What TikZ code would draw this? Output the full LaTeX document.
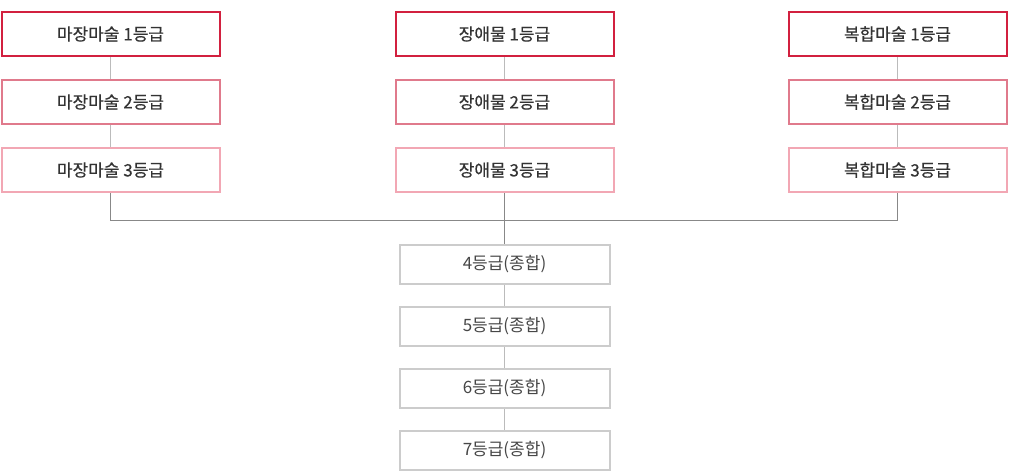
\documentclass[tikz,border=0pt]{standalone}
\usepackage{fontspec}
\newfontfamily\kr{Noto Sans CJK KR}
\newfontfamily\krb[FakeBold=0.4]{Noto Sans CJK KR}
\definecolor{rone}{HTML}{D2203F}
\definecolor{rtwo}{HTML}{E07A8C}
\definecolor{rthree}{HTML}{F2A7B4}
\definecolor{gbox}{HTML}{CCCCCC}
\definecolor{gline}{HTML}{BBBBBB}
\definecolor{gbus}{HTML}{888888}
\definecolor{txt}{HTML}{333333}
\begin{document}
\begin{tikzpicture}[x=1pt,y=-1pt,
  topbox/.style={draw=#1,line width=2pt,fill=white,minimum width=218pt,minimum height=44pt,inner sep=0pt,font=\krb\fontsize{17}{20}\selectfont,text=txt},
  botbox/.style={draw=gbox,line width=2pt,fill=white,minimum width=210pt,minimum height=39pt,inner sep=0pt,font=\kr\fontsize{17}{20}\selectfont,text=txt!90!white},
  link/.style={draw=gline,line width=1pt},
  bus/.style={draw=gbus,line width=1pt}]
\useasboundingbox (0,0) rectangle (1009,472);
% columns
\foreach \cx/\nm/\lab in {110.5/a/마장마술,504.5/b/장애물,897.5/c/복합마술}{
  \node[topbox=rone] (\nm1) at (\cx,34) {\lab\ 1등급};
  \node[topbox=rtwo] (\nm2) at (\cx,102) {\lab\ 2등급};
  \node[topbox=rthree] (\nm3) at (\cx,170) {\lab\ 3등급};
  \draw[link] (\nm1.south) -- (\nm2.north);
  \draw[link] (\nm2.south) -- (\nm3.north);
}
\node[botbox] (d4) at (504.5,264.5) {4등급(종합)};
\node[botbox] (d5) at (504.5,326.5) {5등급(종합)};
\node[botbox] (d6) at (504.5,388.5) {6등급(종합)};
\node[botbox] (d7) at (504.5,450.5) {7등급(종합)};
\coordinate (busL) at (110.5,220.5);
\coordinate (busR) at (897.5,220.5);
\draw[bus] (a3.south) -- (busL) -- (busR) -- (c3.south);
\draw[bus] (b3.south) -- (d4.north);
\draw[link] (d4.south) -- (d5.north);
\draw[link] (d5.south) -- (d6.north);
\draw[link] (d6.south) -- (d7.north);
\end{tikzpicture}
\end{document}
